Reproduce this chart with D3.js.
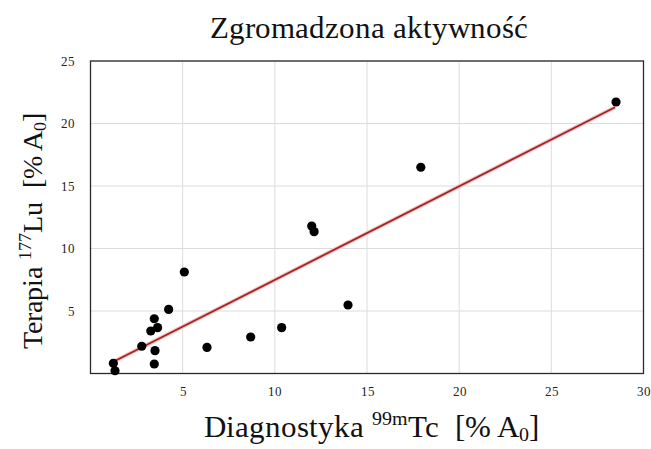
<!DOCTYPE html>
<html>
<head>
<meta charset="utf-8">
<script src="https://cdn.jsdelivr.net/npm/d3@7"></script>
<style>
  @font-face {
    font-family: 'ChartSerif';
    src: local('Liberation Serif'), local('LiberationSerif-Regular'), local('LiberationSerif');
  }
</style>
</head>
<body style="margin:0; background:#fff">
<script>
// values
const xValues = [1.24, 1.33, 2.78, 3.46, 3.27, 3.64, 3.50, 3.46, 4.24, 5.09, 6.32, 8.69, 10.37, 12.0, 12.13, 13.97, 17.92, 28.51]
const yValues = [0.82, 0.22, 2.18, 4.38, 3.40, 3.67, 1.83, 0.76, 5.13, 8.12, 2.09, 2.92, 3.67, 11.8, 11.35, 5.48, 16.5, 21.72]
const fitX = [1.24, 28.46]
const fitY = [0.94, 21.3]
const xTicks = [5, 10, 15, 20, 25, 30]
const yTicks = [5, 10, 15, 20, 25]

const width = 651
const height = 449
const margin = { top: 61, right: 7.5, bottom: 75.5, left: 90.5 }
const SERIF = 'ChartSerif, FreeSerif, Liberation Serif, serif'

const svg = d3.select('body').append('svg')
  .attr('width', width)
  .attr('height', height)
  .style('display', 'block')

const x = d3.scaleLinear().domain([0, 30]).range([margin.left, width - margin.right])
const y = d3.scaleLinear().domain([0, 25]).range([height - margin.bottom, margin.top])

// grid
svg.append('g')
  .selectAll('line')
  .data(xTicks)
  .join('line')
  .attr('x1', d => x(d)).attr('x2', d => x(d))
  .attr('y1', y(0)).attr('y2', y(25))
  .attr('stroke', '#dcdcdc')

svg.append('g')
  .selectAll('line')
  .data(yTicks)
  .join('line')
  .attr('x1', x(0)).attr('x2', x(30))
  .attr('y1', d => y(d)).attr('y2', d => y(d))
  .attr('stroke', '#dcdcdc')

// axes: labels only
const styleAxis = g => {
  g.attr('font-family', SERIF)
  g.select('.domain').remove()
  g.selectAll('text')
    .attr('font-family', SERIF)
    .attr('font-size', 13)
    .attr('fill', '#222')
}

svg.append('g')
  .attr('transform', `translate(0,${y(0)})`)
  .call(d3.axisBottom(x).tickValues(xTicks).tickSize(0).tickPadding(13))
  .call(styleAxis)

svg.append('g')
  .attr('transform', `translate(${x(0)},0)`)
  .call(d3.axisLeft(y).tickValues(yTicks).tickSize(0).tickPadding(16))
  .call(styleAxis)

// frame
svg.append('rect')
  .attr('x', x(0)).attr('y', y(25))
  .attr('width', x(30) - x(0)).attr('height', y(0) - y(25))
  .attr('fill', 'none')
  .attr('stroke', '#2a2a2a')
  .attr('stroke-width', 1.3)

// fit line
const fit = svg.append('g')
fit.append('line').attr('stroke', '#f3c4c4').attr('stroke-width', 4)
fit.append('line').attr('stroke', '#a52222').attr('stroke-width', 1.8)
fit.selectAll('line')
  .attr('x1', x(fitX[0])).attr('y1', y(fitY[0]))
  .attr('x2', x(fitX[1])).attr('y2', y(fitY[1]))

// points
svg.append('g')
  .selectAll('circle')
  .data(xValues.map((v, i) => [v, yValues[i]]))
  .join('circle')
  .attr('cx', d => x(d[0]))
  .attr('cy', d => y(d[1]))
  .attr('r', 4.6)
  .attr('fill', '#000')

const addLabel = (el, name, sup, unit, fs) => {
  const s = fs * 0.64
  el.append('tspan').text(name + ' ')
  el.append('tspan').attr('font-size', s).attr('dy', -fs * 0.38).text(sup)
  el.append('tspan').attr('dy', fs * 0.38).text(unit + '\u2002[% A')
  el.append('tspan').attr('font-size', s).attr('dy', fs * 0.14).text('0')
  el.append('tspan').attr('dy', -fs * 0.14).text(']')
}

const draw = () => {
  svg.selectAll('.label').remove()

  svg.append('text')
    .attr('class', 'label')
    .attr('x', 369).attr('y', 38)
    .attr('text-anchor', 'middle')
    .attr('font-family', SERIF)
    .attr('font-size', 31)
    .attr('fill', '#111')
    .text('Zgromadzona aktywność')

  const xl = svg.append('text')
    .attr('class', 'label')
    .attr('x', 371).attr('y', 437)
    .attr('text-anchor', 'middle')
    .attr('font-family', SERIF)
    .attr('font-size', 31)
    .attr('fill', '#111')
  addLabel(xl, 'Diagnostyka', '99m', 'Tc', 31)

  const yl = svg.append('text')
    .attr('class', 'label')
    .attr('transform', 'translate(42,231) rotate(-90)')
    .attr('text-anchor', 'middle')
    .attr('font-family', SERIF)
    .attr('font-size', 28)
    .attr('fill', '#111')
  addLabel(yl, 'Terapia', '177', 'Lu', 28)
}

draw()
if (document.fonts) document.fonts.ready.then(draw)
</script>
</body>
</html>
